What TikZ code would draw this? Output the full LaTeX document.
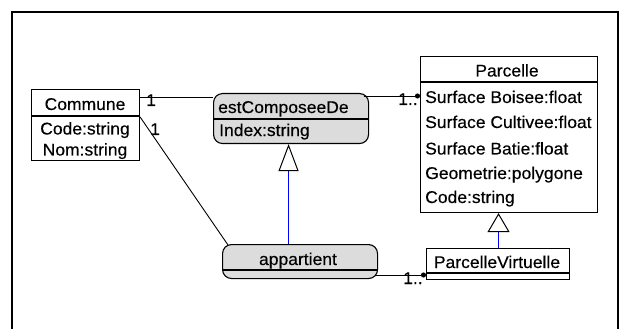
\documentclass[tikz,border=0pt]{standalone}
\usepackage{fontspec}
\setmainfont{Liberation Sans}[FakeStretch=1.03,FakeBold=0.3]
\usetikzlibrary{arrows.meta}
\definecolor{assocgray}{RGB}{220,220,220}
\definecolor{genblue}{RGB}{0,0,255}
\begin{document}
\begin{tikzpicture}[x=1pt,y=-1pt,
  font=\fontsize{17}{19}\selectfont,
  box/.style={draw, line width=1.1pt, inner sep=0pt, anchor=north west},
  assoc/.style={draw, fill=assocgray, rounded corners=9pt, line width=1.1pt, inner sep=0pt, anchor=north west},
  txt/.style={inner sep=0pt, anchor=base west},
  ctxt/.style={inner sep=0pt, anchor=base},
  conn/.style={draw, line width=0.9pt},
  dotend/.style={-{Circle[length=5pt]}},
  gen/.style={draw=genblue, line width=1pt},
]
\useasboundingbox (0,0) rectangle (625,329);
% frame
\draw[line width=1.5pt] (12,329) -- (12,12) -- (618,12) -- (618,329);

% Commune
\node[box, minimum width=108pt, minimum height=71pt] (com) at (31,89) {};
\draw[line width=1.1pt] (com.west |- 0,116) -- (com.east |- 0,116);
\node[ctxt] (comT) at (85,110) {Commune};
\node[ctxt] (comA1) at (85,134.5) {Code:string};
\node[ctxt] (comA2) at (85,155.5) {Nom:string};

% estComposeeDe
\node[assoc, minimum width=155pt, minimum height=50pt] (ecd) at (213,93) {};
\draw[line width=1.1pt] (ecd.west |- 0,119) -- (ecd.east |- 0,119);
\node[txt] (ecdT) at (218,113) {estComposeeDe};
\node[txt] (ecdA) at (219,136) {Index:string};

% Parcelle
\node[box, minimum width=177pt, minimum height=156pt] (par) at (420,56) {};
\draw[line width=1.1pt] (par.west |- 0,82) -- (par.east |- 0,82);
\node[ctxt] (parT) at (507,76.5) {Parcelle};
\node[txt] (parA1) at (425,103) {Surface Boisee:float};
\node[txt] (parA2) at (425,128) {Surface Cultivee:float};
\node[txt] (parA3) at (425,154.5) {Surface Batie:float};
\node[txt] (parA4) at (425,179) {Geometrie:polygone};
\node[txt] (parA5) at (425,203) {Code:string};

% ParcelleVirtuelle
\node[box, minimum width=143pt, minimum height=31pt] (pv) at (426,248) {};
\draw[line width=1.1pt] (pv.west |- 0,273) -- (pv.east |- 0,273);
\node[ctxt] (pvT) at (497,268) {ParcelleVirtuelle};

% appartient
\node[assoc, minimum width=155pt, minimum height=34pt] (app) at (222,244) {};
\draw[line width=1.1pt] ([xshift=1pt]app.west |- 0,270) -- ([xshift=-1pt]app.east |- 0,270);
\node[ctxt] (appT) at (298,265) {appartient};

% associations
\draw[conn] ([yshift=-8pt]com.north east) -- ([yshift=-8pt]com.north east -| ecd.west);
\draw[conn, dotend] ([xshift=-5pt,yshift=-3pt]ecd.north east) -- ([yshift=-3pt]ecd.north east -| par.west);
\draw[conn] ([yshift=-28pt]com.north east) -- ([xshift=6pt,yshift=-1pt]app.north west);
\draw[conn, dotend] ([xshift=-3pt,yshift=-31pt]app.north east) -- ([yshift=-31pt]app.north east -| pv.west);

% generalisations
\draw[gen, -{Triangle[open, color=black, line width=1pt, length=27pt, width=20pt]}]
  ([xshift=-11.5pt]app.north) -- ([xshift=-11.5pt]app.north |- ecd.south);
\draw[gen, -{Triangle[open, color=black, line width=1pt, length=19pt, width=22pt]}]
  ([xshift=0.5pt]pv.north) -- ([xshift=0.5pt]pv.north |- par.south);

% multiplicities
\node[txt] (m1) at (146,106) {1};
\node[txt] (m2) at (150,135) {1};
\node[txt] (m3) at (398,105) {1..};
\node[txt] (m4) at (403,284) {1..};
\end{tikzpicture}
\end{document}
